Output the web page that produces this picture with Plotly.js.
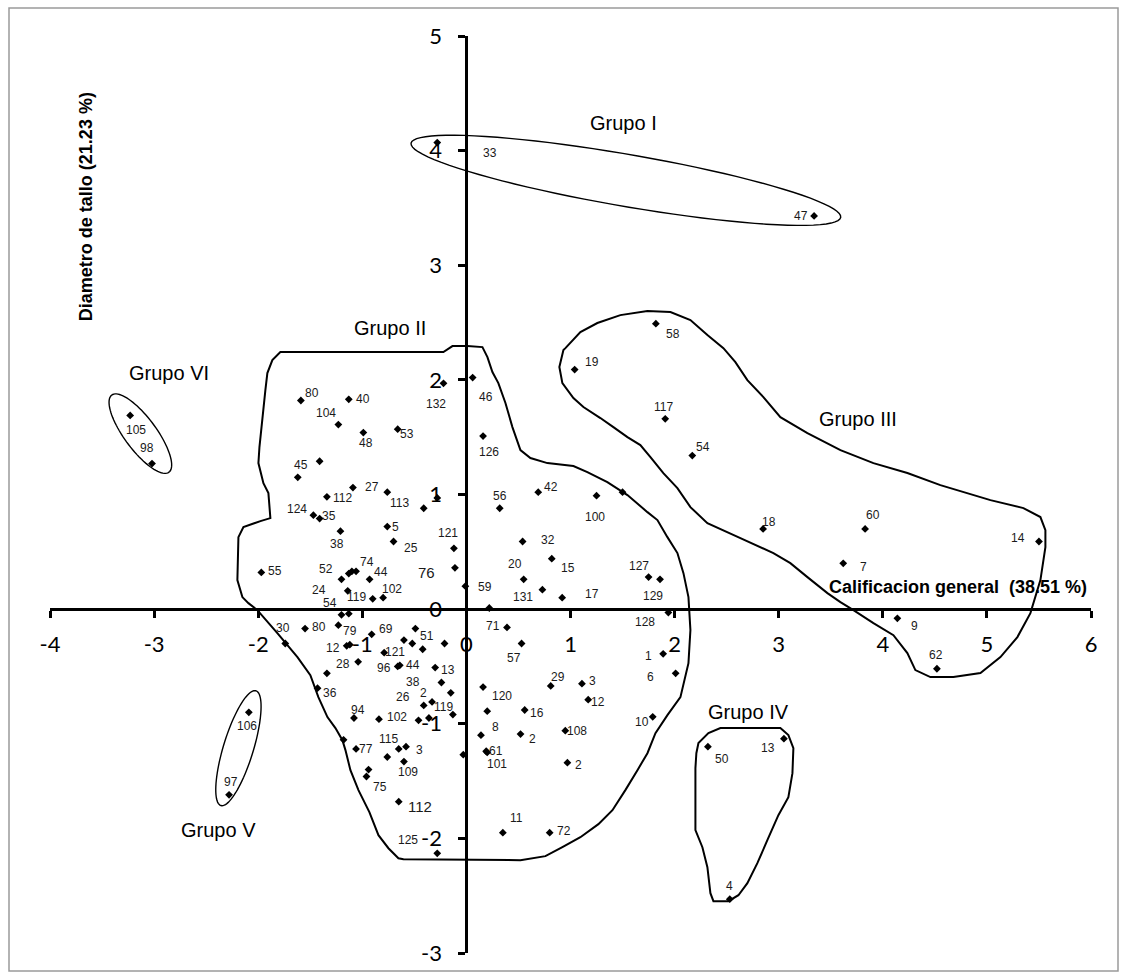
<!DOCTYPE html>
<html>
<head>
<meta charset="utf-8">
<script src="https://cdn.plot.ly/plotly-3.0.1.min.js"></script>
<style>
html,body{margin:0;padding:0;background:#fff;}
#chart{width:1126px;height:979px;}
</style>
</head>
<body>
<div id="chart"></div>
<script>
// ---------------- data ----------------
const xTicks = [-4,-3,-2,-1,0,1,2,3,4,5,6];
const yTicks = [-3,-2,-1,0,1,2,3,4,5];
const xTitle = 'Calificacion general&nbsp; (38.51 %)';
const yTitle = 'Diametro de tallo (21.23 %)';

// genotype scores on the two principal components
const ptX = [
 -0.28, 3.34,-0.22,-1.59,-1.13,-1.23,-0.99,-0.66,-1.41,-1.62,
 -1.34,-1.09,-0.76,-0.41,-0.28,-1.47,-1.41,-0.76,-1.21,-0.70,
 -0.12,-0.11,-1.97,-1.20,-1.13,-1.10,-1.06,-0.93,-1.14,-0.90,
 -0.80,-1.20,-1.13,-1.74,-1.55,-1.23,-0.91,-0.49,-1.15,-1.12,
 -0.79,-0.60,-0.52,-0.42,-0.21,-1.34,-1.04,-0.66,-0.64,-0.30,
 -0.24,-1.43,-0.33,-0.15,-0.41,-0.13,-1.08,-0.84,-0.46,-0.36,
 -1.18,-1.06,-0.65,-0.58,-0.76,-0.60,-0.94,-0.96,-0.65,-0.28,
 -0.03, 0.22,-0.01, 0.39, 0.53, 0.16, 0.81, 1.11, 1.17, 0.20,
  0.14, 0.56, 0.52, 0.95, 0.19, 0.20, 0.97, 1.79, 1.89, 2.01,
  1.94, 0.35, 0.80, 0.06, 0.16, 1.04, 1.91, 2.17, 0.69, 0.32,
  1.25, 0.54, 0.82, 0.55, 0.73, 0.92, 1.75, 1.86, 1.50, 1.82,
  2.85, 3.83, 3.62, 5.50, 4.14, 4.52,-3.23,-3.02,-2.09,-2.28,
  2.32, 3.05, 2.53];
const ptY = [
  4.07, 3.43, 1.97, 1.82, 1.83, 1.61, 1.54, 1.57, 1.29, 1.15,
  0.98, 1.06, 1.02, 0.88, 0.97, 0.82, 0.79, 0.72, 0.68, 0.59,
  0.53, 0.36, 0.32, 0.26, 0.31, 0.33, 0.33, 0.26, 0.16, 0.09,
  0.10,-0.05,-0.04,-0.30,-0.17,-0.14,-0.22,-0.17,-0.32,-0.31,
 -0.38,-0.27,-0.30,-0.35,-0.30,-0.56,-0.46,-0.50,-0.49,-0.51,
 -0.64,-0.69,-0.81,-0.73,-0.84,-0.92,-0.95,-0.96,-0.97,-0.95,
 -1.14,-1.22,-1.22,-1.20,-1.29,-1.33,-1.40,-1.46,-1.68,-2.13,
 -1.27, 0.01, 0.20,-0.16,-0.30,-0.68,-0.67,-0.65,-0.79,-0.89,
 -1.10,-0.88,-1.09,-1.06,-1.24,-1.25,-1.34,-0.94,-0.39,-0.56,
 -0.03,-1.95,-1.95, 2.02, 1.51, 2.09, 1.66, 1.34, 1.02, 0.88,
  0.99, 0.59, 0.44, 0.26, 0.17, 0.10, 0.28, 0.26, 1.02, 2.49,
  0.70, 0.70, 0.40, 0.59,-0.08,-0.52, 1.69, 1.27,-0.90,-1.62,
 -1.20,-1.13,-2.53];
const ptLabel = [
 '33','47','132','80','40','104','48','53','','45',
 '112','27','113','','','124','35','5','38','25',
 '121','76','55','52','','','74','44','24','119',
 '102','54','','30','80','79','69','51','12','',
 '121','','','','','28','','96','44','13',
 '38','36','2','','26','119','94','102','','',
 '','77','115','3','','109','','75','112','125',
 '','','59','71','57','120','29','3','12','',
 '8','16','2','108','61','101','2','10','1','6',
 '128','11','72','46','126','19','117','54','42','56',
 '100','32','15','20','131','17','127','129','','58',
 '18','60','7','14','9','62','105','98','106','97',
 '50','13','4'];

// group labels
const groupNames = ['Grupo I','Grupo II','Grupo III','Grupo IV','Grupo V','Grupo VI'];
const groupLabelX = [1.51,-0.73,3.76,2.71,-2.38,-2.86];
const groupLabelY = [4.24, 2.45,1.66,-0.90,-1.93,2.06];

// hand-drawn group outlines (data coordinates)
const g2X = [-1.787,-0.221,-0.134,0.010,0.154,0.202,0.250,0.307,0.375,0.442,0.519,0.615,0.778,1.028,1.162,1.354,1.547,1.739,1.835,1.931,2.027,2.085,2.133,2.152,2.133,2.056,1.931,1.816,1.739,1.643,1.527,1.403,1.268,1.095,0.922,0.759,0.519,-0.605,-0.653,-0.749,-0.845,-0.932,-1.037,-1.114,-1.162,-1.191,-1.258,-1.335,-1.422,-1.499,-1.623,-1.816,-2.008,-2.094,-2.152,-2.200,-2.190,-2.142,-1.979,-1.883,-1.902,-1.950,-1.998,-1.988,-1.931,-1.912,-1.864];
const g2Y = [2.243,2.243,2.295,2.295,2.286,2.199,2.068,1.972,1.798,1.588,1.387,1.318,1.274,1.248,1.195,1.108,0.995,0.846,0.777,0.628,0.489,0.314,0.105,-0.183,-0.471,-0.768,-0.925,-1.082,-1.257,-1.405,-1.579,-1.754,-1.876,-1.990,-2.077,-2.155,-2.190,-2.182,-2.173,-2.086,-1.972,-1.771,-1.579,-1.405,-1.230,-1.143,-1.038,-0.942,-0.768,-0.576,-0.419,-0.209,-0.009,0.052,0.105,0.253,0.628,0.716,0.768,0.794,1.012,1.099,1.274,1.414,1.911,2.059,2.173];
const g3X = [0.951,1.095,1.258,1.479,1.739,1.960,2.152,2.315,2.469,2.584,2.699,2.853,3.016,3.276,3.593,3.910,4.236,4.553,5.034,5.351,5.514,5.562,5.562,5.514,5.418,5.293,5.130,4.938,4.678,4.457,4.313,4.236,4.102,3.910,3.718,3.593,3.468,3.276,3.112,2.949,2.632,2.315,2.152,2.027,1.892,1.768,1.671,1.547,1.412,1.287,1.124,1.028,0.922,0.893,0.932];
const g3Y = [2.277,2.417,2.496,2.565,2.600,2.592,2.522,2.391,2.277,2.155,1.998,1.850,1.675,1.536,1.387,1.274,1.187,1.082,0.951,0.881,0.803,0.689,0.541,0.253,-0.035,-0.244,-0.419,-0.558,-0.593,-0.593,-0.532,-0.384,-0.227,-0.122,-0.009,0.061,0.140,0.279,0.401,0.489,0.620,0.750,0.890,1.056,1.187,1.326,1.431,1.501,1.588,1.667,1.763,1.841,1.972,2.112,2.260];
const g4X = [2.209,2.200,2.200,2.267,2.315,2.344,2.373,2.517,2.613,2.699,2.795,2.891,2.997,3.093,3.132,3.141,3.093,3.016,2.440,2.325,2.229];
const g4Y = [-1.257,-1.387,-1.928,-2.077,-2.251,-2.478,-2.548,-2.548,-2.496,-2.391,-2.216,-2.016,-1.798,-1.641,-1.431,-1.213,-1.099,-1.038,-1.038,-1.082,-1.169];
// ellipses: centre in data units
const ellCX = [1.532,-2.190,-3.132];
const ellCY = [3.741,-1.213,1.531];

// ---------------- style ----------------
// label offsets from their point, in pixels (dx right, dy up)
const labelDX = [
 53,-13,-8,11,14,-12,3,9,0,3,
 16,19,12,0,0,-16,9,8,-3,17,
 -6,-28,14,-15,0,0,11,11,-29,-16,
 9,-11,0,-2,14,12,14,12,-14,0,
 11,0,0,0,0,16,0,-14,13,13,
 -28,12,-9,0,-21,-9,4,18,0,0,
 0,10,-10,13,0,4,0,14,21,-29,
 0,0,20,-14,-8,19,7,11,10,0,
 15,12,12,12,10,10,11,-11,-15,-25,
 -23,14,14,13,6,17,-2,11,13,0,
 -2,25,16,-9,-19,30,-10,-7,0,17,
 6,8,20,-21,17,-1,6,-5,-2,2,
 14,-16,0];
const labelDY = [
 -10,0,-21,8,0,12,-10,-5,0,12,
 -1,1,-11,0,0,6,3,0,-13,-6,
 15,-5,1,10,0,0,9,7,1,2,
 9,12,0,16,2,-6,5,-7,-2,0,
 1,0,0,0,0,9,0,-2,0,-2,
 0,-5,9,0,8,8,8,2,0,0,
 0,0,10,-3,0,-10,0,-11,-5,13,
 0,0,-1,1,-14,-9,9,3,-2,0,
 8,-3,-5,0,0,-12,-2,-5,-2,-4,
 -9,15,2,-19,-16,8,12,9,5,12,
 -21,2,-9,15,-7,4,11,-17,0,-10,
 7,14,-4,4,-8,14,-15,16,-14,13,
 -12,-9,13];
const bigLabelIdx = [21, 68];
const ellA = [218, 60, 48];   // semi-major, px
const ellB = [26, 15, 16];    // semi-minor, px
const ellT = [9.8, -73, 53.5]; // rotation, degrees (screen, clockwise)

const W = 1126, H = 979;
const M = {l:50, r:35, t:36, b:26};
const plotW = W - M.l - M.r, plotH = H - M.t - M.b;
const xr = [-4, 6], yr = [-3, 5];
const kx = plotW / (xr[1]-xr[0]), ky = plotH / (yr[1]-yr[0]);

function polyPath(xs, ys){
  let s = 'M' + xs[0] + ',' + ys[0];
  for (let i=1;i<xs.length;i++) s += ' L' + xs[i] + ',' + ys[i];
  return s + ' Z';
}
function ellipsePath(cx, cy, a, b, tdeg){
  const t = tdeg*Math.PI/180, n = 90;
  let s = '';
  for (let i=0;i<=n;i++){
    const u = 2*Math.PI*i/n;
    const dx = a*Math.cos(u)*Math.cos(t) - b*Math.sin(u)*Math.sin(t);
    const dy = a*Math.cos(u)*Math.sin(t) + b*Math.sin(u)*Math.cos(t);
    const X = cx + dx/kx, Y = cy - dy/ky;
    s += (i===0?'M':' L') + X.toFixed(4) + ',' + Y.toFixed(4);
  }
  return s + ' Z';
}

const shapes = [];
[[g2X,g2Y],[g3X,g3Y],[g4X,g4Y]].forEach(g=>{
  shapes.push({type:'path', xref:'x', yref:'y', path:polyPath(g[0],g[1]),
    line:{color:'black', width:2}, fillcolor:'rgba(0,0,0,0)', layer:'above'});
});
for (let i=0;i<ellCX.length;i++){
  shapes.push({type:'path', xref:'x', yref:'y',
    path:ellipsePath(ellCX[i], ellCY[i], ellA[i], ellB[i], ellT[i]),
    line:{color:'black', width:1.4}, fillcolor:'rgba(0,0,0,0)', layer:'above'});
}
// outer frame of the chart
const px2paperX = p => (p - M.l)/plotW;
const px2paperY = p => (H - M.b - p)/plotH;
shapes.push({type:'rect', xref:'paper', yref:'paper',
  x0:px2paperX(9), x1:px2paperX(1118), y0:px2paperY(971), y1:px2paperY(8),
  line:{color:'#9a9a9a', width:1.5}, fillcolor:'rgba(0,0,0,0)'});

const annotations = [];
ptLabel.forEach((t,i)=>{
  if (!t) return;
  annotations.push({x:ptX[i], y:ptY[i], xref:'x', yref:'y', text:t, showarrow:false,
    xshift:labelDX[i], yshift:labelDY[i], xanchor:'center', yanchor:'middle',
    font:{family:'Liberation Sans, Arial, sans-serif', size: bigLabelIdx.includes(i)?15:12, color:'#1a1a1a'}});
});
groupNames.forEach((g,i)=>{
  annotations.push({x:groupLabelX[i], y:groupLabelY[i], xref:'x', yref:'y', text:g,
    showarrow:false, xanchor:'center', yanchor:'middle',
    font:{family:'Liberation Sans, Arial, sans-serif', size:20, color:'black'}});
});
annotations.push({x:4.72, y:0.19, xref:'x', yref:'y', text:'<b>'+xTitle+'</b>', showarrow:false,
  xanchor:'center', yanchor:'middle', font:{family:'Liberation Sans, Arial, sans-serif', size:18, color:'black'}});
annotations.push({x:-3.66, y:3.51, xref:'x', yref:'y', text:'<b>'+yTitle+'</b>', showarrow:false,
  textangle:-90, xanchor:'center', yanchor:'middle', font:{family:'Liberation Sans, Arial, sans-serif', size:18, color:'black'}});

const trace = {
  x: ptX, y: ptY, type:'scatter', mode:'markers', cliponaxis:false,
  marker:{symbol:'diamond', size:6, color:'black'}, hoverinfo:'skip'
};

const axisCommon = {
  showline:true, linewidth:3, linecolor:'black', ticks:'outside', ticklen:7,
  tickwidth:3, tickcolor:'black', showgrid:false, zeroline:false, fixedrange:true,
  tickfont:{family:'Lato, Open Sans, sans-serif', size:22, color:'black'}
};

const layout = {
  width:W, height:H, margin:M, showlegend:false,
  paper_bgcolor:'white', plot_bgcolor:'white',
  xaxis:Object.assign({}, axisCommon, {range:xr, anchor:'free', position:(0-yr[0])/(yr[1]-yr[0]),
    tickvals:xTicks, ticktext:xTicks.map(String), ticklabelstandoff:7}),
  yaxis:Object.assign({}, axisCommon, {range:yr, anchor:'free', position:(0-xr[0])/(xr[1]-xr[0]),
    tickvals:yTicks, ticktext:yTicks.map(String), ticklabelstandoff:12}),
  shapes:shapes, annotations:annotations
};

Plotly.newPlot('chart', [trace], layout, {displayModeBar:false, staticPlot:true});
</script>
</body>
</html>
